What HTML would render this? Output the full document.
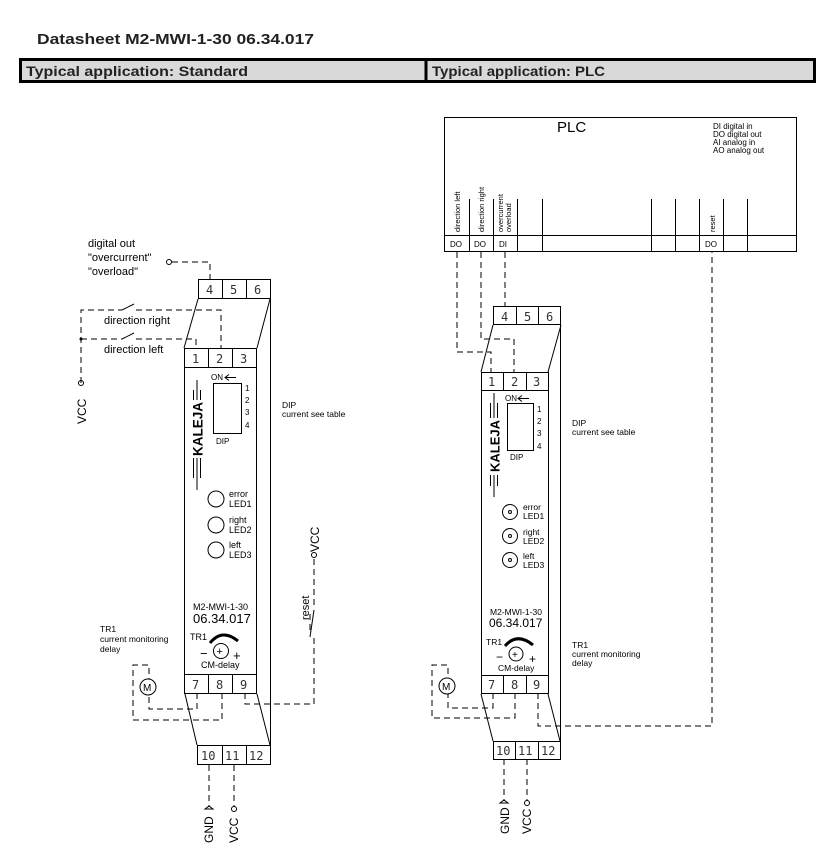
<!DOCTYPE html>
<html><head><meta charset="utf-8"><style>
html,body{margin:0;padding:0;background:#fff;width:828px;height:849px;overflow:hidden}
svg{display:block;font-family:"Liberation Sans",sans-serif}
.t{font-family:"DejaVu Sans Mono","Liberation Mono",monospace;font-size:12px;fill:#333}
.d{stroke:#000;stroke-width:1;fill:none;stroke-dasharray:6,4}
.l{stroke:#000;stroke-width:1;fill:none}
</style></head><body>
<svg width="828" height="849" viewBox="0 0 828 849" xmlns="http://www.w3.org/2000/svg">
<text x="37" y="44" font-size="15" font-weight="bold" fill="#222" textLength="277" lengthAdjust="spacingAndGlyphs">Datasheet   M2-MWI-1-30   06.34.017</text>
<rect x="20.5" y="59.5" width="794" height="22" fill="#d9d9d9" stroke="#000" stroke-width="3"/>
<line x1="426" y1="59" x2="426" y2="82" stroke="#000" stroke-width="3"/>
<text x="26" y="76" font-size="14" font-weight="bold" fill="#222" textLength="222" lengthAdjust="spacingAndGlyphs">Typical application: Standard</text>
<text x="432" y="76" font-size="14" font-weight="bold" fill="#222" textLength="173" lengthAdjust="spacingAndGlyphs">Typical application: PLC</text>

<!-- LEFT DEVICE -->
<g class="l">
<rect x="198.5" y="279.5" width="72" height="19"/>
<line x1="222.5" y1="279" x2="222.5" y2="298"/><line x1="246.5" y1="279" x2="246.5" y2="298"/>
<line x1="198" y1="299" x2="184" y2="348"/><line x1="270" y1="299" x2="257" y2="348"/>
<line x1="270.5" y1="298" x2="270.5" y2="745"/>
<rect x="184.5" y="348.5" width="72" height="19"/>
<line x1="208.5" y1="348" x2="208.5" y2="367"/><line x1="232.5" y1="348" x2="232.5" y2="367"/>
<rect x="184.5" y="367.5" width="72" height="326"/>
<line x1="184" y1="674.5" x2="257" y2="674.5"/>
<line x1="208.5" y1="674" x2="208.5" y2="693"/><line x1="232.5" y1="674" x2="232.5" y2="693"/>
<line x1="185" y1="694" x2="197" y2="745"/><line x1="257" y1="694" x2="270" y2="745"/>
<rect x="197.5" y="745.5" width="73" height="19"/>
<line x1="222.5" y1="745" x2="222.5" y2="764"/><line x1="246.5" y1="745" x2="246.5" y2="764"/>
</g>
<g class="t">
<text x="206" y="294">4</text><text x="230" y="294">5</text><text x="254" y="294">6</text>
<text x="192" y="363">1</text><text x="216" y="363">2</text><text x="240" y="363">3</text>
<text x="192" y="689">7</text><text x="216" y="689">8</text><text x="240" y="689">9</text>
<text x="201" y="760">10</text><text x="225" y="760">11</text><text x="249" y="760">12</text>
</g>
<!-- logo left -->
<g class="l"><line x1="197" y1="380" x2="197" y2="490"/><line x1="193.5" y1="390" x2="193.5" y2="478"/><line x1="200.5" y1="390" x2="200.5" y2="478"/></g>
<rect x="190" y="400" width="14" height="58" fill="#fff"/>
<text transform="translate(202.5,456) rotate(-90)" font-size="13.5" font-weight="bold" fill="#000" textLength="54" lengthAdjust="spacingAndGlyphs">KALEJA</text>
<rect x="213.5" y="383.5" width="28" height="50" class="l"/>
<text x="211" y="380" font-size="8">ON</text><path d="M225 377.5 H236 M229 374.5 L225 377.5 L229 380.5" class="l"/>
<g font-size="8"><text x="245" y="391">1</text><text x="245" y="403">2</text><text x="245" y="415">3</text><text x="245" y="428">4</text><text x="216" y="444">DIP</text></g>
<text x="282" y="408" font-size="8.5">DIP</text><text x="282" y="417" font-size="8.5">current see table</text>
<g class="l"><circle cx="216" cy="499" r="8"/><circle cx="216" cy="525" r="8"/><circle cx="216" cy="550" r="8"/></g>
<g font-size="9"><text x="229" y="497">error</text><text x="229" y="507">LED1</text><text x="229" y="523">right</text><text x="229" y="533">LED2</text><text x="229" y="548">left</text><text x="229" y="558">LED3</text></g>
<text x="193" y="610" font-size="9">M2-MWI-1-30</text><text x="193" y="623" font-size="13">06.34.017</text>
<text x="190" y="640" font-size="9">TR1</text>
<circle cx="221" cy="651" r="7.5" class="l"/><text x="216.5" y="655" font-size="11">+</text>
<path d="M210 643 Q222 628 238 641" fill="none" stroke="#000" stroke-width="3"/>
<text x="200" y="658" font-size="13">−</text><text x="233" y="660" font-size="13">+</text>
<text x="201" y="668" font-size="9">CM-delay</text>
<g font-size="8.5"><text x="100" y="632">TR1</text><text x="100" y="642">current monitoring</text><text x="100" y="652">delay</text></g>
<!-- left wiring -->
<g font-size="11"><text x="88" y="247">digital out</text><text x="88" y="261">"overcurrent"</text><text x="88" y="275">"overload"</text>
<text x="104" y="324">direction right</text><text x="104" y="353">direction left</text></g>
<circle cx="169" cy="262" r="2.5" class="l"/>
<path d="M172 262 H210 V279" class="d"/>
<path d="M81 383 V310 H122 M136 310 H221 V348" class="d"/><path d="M122 310 L134 304" class="l"/>
<path d="M81 339 H122 M136 339 H196 V348" class="d"/><path d="M122 339 L134 333" class="l"/>
<circle cx="81" cy="339" r="1.5"/>
<circle cx="81" cy="383" r="2.5" class="l" fill="#fff"/>
<text transform="translate(86,424) rotate(-90)" font-size="12">VCC</text>
<circle cx="148" cy="687" r="8" class="l"/><text x="143" y="691" font-size="10">M</text>
<path d="M197 693 V709 H149 V695" class="d"/>
<path d="M222 693 V720 H133 V665 H149 V679" class="d"/>
<path d="M245 693 V704 H314 V637 M310 630 V612 M314 605 V558" class="d"/><path d="M310 637 L314 610" class="l"/>
<circle cx="314" cy="555" r="2.5" class="l"/>
<text transform="translate(319,552) rotate(-90)" font-size="12">VCC</text>
<text transform="translate(309,620) rotate(-90)" font-size="11">reset</text>
<path d="M209 765 V807 M234 765 V807" class="d"/>
<path d="M205 809 L209 806 L213 809 Z" class="l"/><circle cx="234" cy="809" r="2.5" class="l"/>
<text transform="translate(213,843) rotate(-90)" font-size="12">GND</text>
<text transform="translate(238,843) rotate(-90)" font-size="12">VCC</text>

<!-- PLC -->
<g class="l">
<rect x="444.5" y="117.5" width="352" height="134"/>
<line x1="444" y1="235.5" x2="797" y2="235.5"/>
<path d="M469.5 199 V252 M493.5 199 V252 M517.5 199 V252 M542.5 199 V252 M651.5 199 V252 M675.5 199 V252 M699.5 199 V252 M723.5 199 V252 M747.5 199 V252"/>
</g>
<text x="557" y="132" font-size="15">PLC</text>
<g font-size="8"><text x="713" y="129">DI   digital in</text><text x="713" y="137">DO digital out</text><text x="713" y="145">AI   analog in</text><text x="713" y="153">AO analog out</text>
<text x="450" y="247">DO</text><text x="474" y="247">DO</text><text x="499" y="247">DI</text><text x="705" y="247">DO</text></g>
<g font-size="7.5"><text transform="translate(460,232) rotate(-90)">direction left</text><text transform="translate(484,232) rotate(-90)">direction right</text>
<text transform="translate(503,232) rotate(-90)">overcurrent</text><text transform="translate(511,232) rotate(-90)">overload</text><text transform="translate(715,232) rotate(-90)">reset</text></g>

<!-- RIGHT DEVICE -->
<g class="l">
<rect x="493.5" y="306.5" width="67" height="18"/>
<line x1="516.5" y1="306" x2="516.5" y2="324"/><line x1="538.5" y1="306" x2="538.5" y2="324"/>
<line x1="493" y1="325" x2="481" y2="372"/><line x1="561" y1="325" x2="548" y2="372"/>
<line x1="560.5" y1="324" x2="560.5" y2="741"/>
<rect x="481.5" y="372.5" width="67" height="18"/>
<line x1="503.5" y1="372" x2="503.5" y2="390"/><line x1="526.5" y1="372" x2="526.5" y2="390"/>
<rect x="481.5" y="390.5" width="67" height="303"/>
<line x1="481" y1="675.5" x2="548" y2="675.5"/>
<line x1="503.5" y1="675" x2="503.5" y2="693"/><line x1="526.5" y1="675" x2="526.5" y2="693"/>
<line x1="481" y1="694" x2="493" y2="741"/><line x1="548" y1="694" x2="560" y2="741"/>
<rect x="493.5" y="741.5" width="67" height="18"/>
<line x1="515.5" y1="741" x2="515.5" y2="759"/><line x1="538.5" y1="741" x2="538.5" y2="759"/>
</g>
<g class="t">
<text x="501" y="321">4</text><text x="524" y="321">5</text><text x="546" y="321">6</text>
<text x="488" y="386">1</text><text x="511" y="386">2</text><text x="533" y="386">3</text>
<text x="488" y="689">7</text><text x="511" y="689">8</text><text x="533" y="689">9</text>
<text x="496" y="755">10</text><text x="518" y="755">11</text><text x="541" y="755">12</text>
</g>
<g class="l"><line x1="494" y1="393" x2="494" y2="497"/><line x1="490.5" y1="403" x2="490.5" y2="486"/><line x1="497.5" y1="403" x2="497.5" y2="486"/></g>
<rect x="487" y="418" width="14" height="57" fill="#fff"/>
<text transform="translate(499.5,472) rotate(-90)" font-size="13" font-weight="bold" textLength="52" lengthAdjust="spacingAndGlyphs">KALEJA</text>
<rect x="507.5" y="403.5" width="26" height="47" class="l"/>
<text x="505" y="401" font-size="8">ON</text><path d="M518 398.5 H529 M522 395.5 L518 398.5 L522 401.5" class="l"/>
<g font-size="8"><text x="537" y="412">1</text><text x="537" y="424">2</text><text x="537" y="436">3</text><text x="537" y="449">4</text><text x="510" y="460">DIP</text></g>
<text x="572" y="426" font-size="8.5">DIP</text><text x="572" y="435" font-size="8.5">current see table</text>
<g class="l"><circle cx="510" cy="512" r="7.5"/><circle cx="510" cy="536" r="7.5"/><circle cx="510" cy="560" r="7.5"/>
<circle cx="510" cy="512" r="1.5"/><circle cx="510" cy="536" r="1.5"/><circle cx="510" cy="560" r="1.5"/></g>
<g font-size="8.5"><text x="523" y="510">error</text><text x="523" y="519">LED1</text><text x="523" y="535">right</text><text x="523" y="544">LED2</text><text x="523" y="559">left</text><text x="523" y="568">LED3</text></g>
<text x="490" y="615" font-size="8.5">M2-MWI-1-30</text><text x="489" y="627" font-size="12">06.34.017</text>
<text x="486" y="645" font-size="8.5">TR1</text>
<circle cx="516" cy="654" r="7" class="l"/><text x="512" y="658" font-size="10">+</text>
<path d="M505 646 Q517 632 533 645" fill="none" stroke="#000" stroke-width="3"/>
<text x="496" y="661" font-size="12">−</text><text x="529" y="663" font-size="12">+</text>
<text x="498" y="671" font-size="8.5">CM-delay</text>
<g font-size="8.5"><text x="572" y="648">TR1</text><text x="572" y="657">current monitoring</text><text x="572" y="666">delay</text></g>
<path d="M457 252 V352 H491 V372 M481 252 V339 H514 V372 M505 252 V306" class="d"/>
<circle cx="447" cy="686" r="8" class="l"/><text x="442" y="690" font-size="10">M</text>
<path d="M493 693 V708 H448 V694" class="d"/>
<path d="M515 693 V718 H432 V665 H448 V678" class="d"/>
<path d="M538 693 V726 H712 V252" class="d"/>
<path d="M504 759 V801 M527 759 V801" class="d"/>
<path d="M500 803 L504 800 L508 803 Z" class="l"/><circle cx="527" cy="803" r="2.5" class="l"/>
<text transform="translate(509,834) rotate(-90)" font-size="12">GND</text>
<text transform="translate(531,834) rotate(-90)" font-size="12">VCC</text>
</svg>
</body></html>
